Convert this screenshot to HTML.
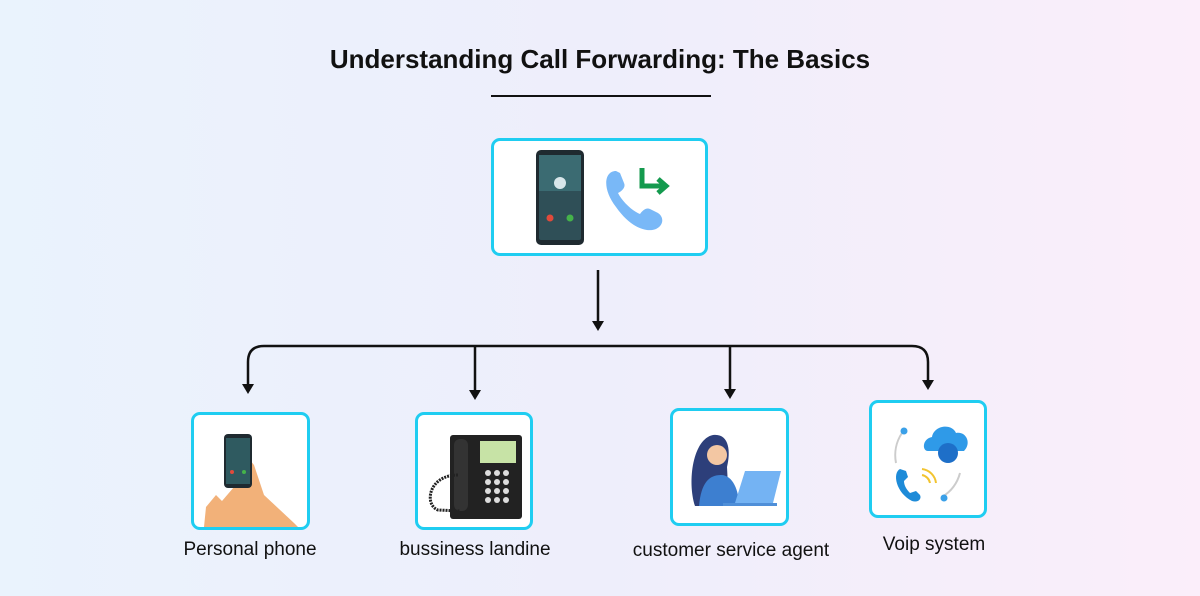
<!DOCTYPE html>
<html><head><meta charset="utf-8"><style>
html,body{margin:0;padding:0}
body{width:1200px;height:596px;position:relative;overflow:hidden;font-family:"Liberation Sans",sans-serif;
background:linear-gradient(90deg,#eaf3fd 0%,#eeeefb 50%,#fbeefa 100%);}
.t{position:absolute;left:0;width:1200px;top:44px;text-align:center;font-size:26px;font-weight:bold;color:#111}
.box{position:absolute;border:3.5px solid #1fcdf1;border-radius:9px;background:#fff;box-sizing:border-box}
.l{position:absolute;font-size:19px;color:#111;text-align:center;width:260px;transform:translateX(-50%)}
</style></head><body>
<div class="t">Understanding Call Forwarding: The Basics</div>
<div style="position:absolute;left:491px;top:95px;width:220px;height:2px;background:#111"></div>

<div class="box" style="left:491px;top:138px;width:217px;height:118px">
<svg width="211" height="112" style="position:absolute;left:0;top:0">
<rect x="42" y="9" width="48" height="95" rx="5" fill="#1f2a30"/>
<rect x="45" y="14" width="42" height="85" rx="2" fill="#2f4f57"/>
<rect x="45" y="14" width="42" height="36" fill="#3b6b72"/>
<circle cx="66" cy="42" r="6" fill="#d8e6ea"/>
<circle cx="56" cy="77" r="3.5" fill="#e24a3b"/><circle cx="76" cy="77" r="3.5" fill="#45b34a"/>
<path d="M122 30 C110 30 108 48 122 66 C136 86 152 92 162 88 C170 84 170 76 164 72 L156 68 C152 66 148 70 146 73 C138 70 128 60 124 52 C128 50 132 46 130 42 L126 32 Z" fill="#79b8f7"/>
<path d="M148 27 L148 45 L170 45" stroke="#149a4e" stroke-width="5" fill="none"/>
<path d="M164 38 L172 45 L164 52" stroke="#149a4e" stroke-width="5" fill="none"/>
</svg></div>

<svg width="1200" height="596" style="position:absolute;left:0;top:0">
<g stroke="#111" stroke-width="2.5" fill="none">
<line x1="598" y1="270" x2="598" y2="323"/>
<path d="M248 386 V362 Q248 346 264 346 H912 Q928 346 928 362 V382"/>
<line x1="475" y1="346" x2="475" y2="392"/>
<line x1="730" y1="346" x2="730" y2="391"/>
</g>
<g fill="#111">
<path d="M592 321 L604 321 L598 331 Z"/>
<path d="M242 384 L254 384 L248 394 Z"/>
<path d="M469 390 L481 390 L475 400 Z"/>
<path d="M724 389 L736 389 L730 399 Z"/>
<path d="M922 380 L934 380 L928 390 Z"/>
</g>
</svg>

<div class="box" style="left:191px;top:412px;width:119px;height:118px">
<svg width="113" height="112" style="position:absolute;left:0;top:0">
<path d="M10 112 L12 92 L22 80 L28 86 L40 72 L52 40 L60 50 L70 80 L100 108 L104 112 Z" fill="#f2b179"/>
<rect x="30" y="19" width="28" height="54" rx="4" fill="#1f2a30"/>
<rect x="32" y="23" width="24" height="46" fill="#2f5a60"/>
<circle cx="38" cy="57" r="2" fill="#e24a3b"/><circle cx="50" cy="57" r="2" fill="#45b34a"/>
</svg></div>

<div class="box" style="left:415px;top:412px;width:118px;height:118px">
<svg width="112" height="112" style="position:absolute;left:0;top:0">
<rect x="32" y="20" width="72" height="84" rx="3" fill="#222"/>
<rect x="62" y="26" width="36" height="22" fill="#c7e3a6"/>
<rect x="36" y="24" width="14" height="72" rx="6" fill="#333"/>
<g fill="#ddd"><circle cx="70" cy="58" r="3"/><circle cx="79" cy="58" r="3"/><circle cx="88" cy="58" r="3"/><circle cx="70" cy="67" r="3"/><circle cx="79" cy="67" r="3"/><circle cx="88" cy="67" r="3"/><circle cx="70" cy="76" r="3"/><circle cx="79" cy="76" r="3"/><circle cx="88" cy="76" r="3"/><circle cx="70" cy="85" r="3"/><circle cx="79" cy="85" r="3"/><circle cx="88" cy="85" r="3"/></g>
<path d="M40 60 C10 60 6 90 20 95 L42 96" stroke="#222" stroke-width="3" stroke-dasharray="2 1" fill="none"/>
</svg></div>

<div class="box" style="left:670px;top:408px;width:119px;height:118px">
<svg width="113" height="112" style="position:absolute;left:0;top:0">
<path d="M22 95 C14 70 20 28 40 24 C56 22 58 40 54 56 L56 95 Z" fill="#2d3f7a"/>
<circle cx="44" cy="44" r="10" fill="#f3c7a3"/>
<path d="M26 95 C28 72 36 64 48 64 C60 64 66 80 66 95 Z" fill="#3d7fd0"/>
<path d="M62 92 L72 60 L108 60 L100 92 Z" fill="#74b3f3"/>
<rect x="50" y="92" width="54" height="3" fill="#4f8fd8"/>
</svg></div>

<div class="box" style="left:869px;top:400px;width:118px;height:118px">
<svg width="112" height="112" style="position:absolute;left:0;top:0">
<path d="M30 30 A40 40 0 0 0 24 60" stroke="#ccc" stroke-width="2" fill="none"/>
<path d="M88 70 A40 40 0 0 1 70 94" stroke="#ccc" stroke-width="2" fill="none"/>
<circle cx="32" cy="28" r="3.5" fill="#3aa0e8"/><circle cx="72" cy="95" r="3.5" fill="#3aa0e8"/>
<path d="M56 48 C50 48 50 36 60 34 C62 22 80 20 84 30 C94 28 100 40 92 48 Z" fill="#2f9ae8"/>
<circle cx="76" cy="50" r="10" fill="#1e6fc8"/>
<path d="M28 66 C20 70 24 90 40 98 C46 100 50 96 48 92 L44 88 L38 90 C34 86 32 82 32 78 L36 74 L34 68 Z" fill="#1e8bd8"/>
<path d="M50 72 A10 10 0 0 1 58 80 M50 66 A16 16 0 0 1 64 80" stroke="#f2c430" stroke-width="2" fill="none"/>
</svg></div>

<div class="l" style="left:250px;top:539px">Personal phone</div>
<div class="l" style="left:475px;top:539px">bussiness landine</div>
<div class="l" style="left:731px;top:540px">customer service agent</div>
<div class="l" style="left:934px;top:534px">Voip system</div>
</body></html>
